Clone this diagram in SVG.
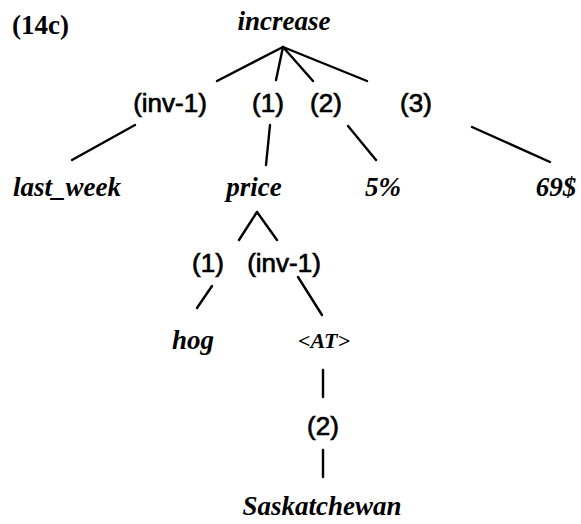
<svg xmlns="http://www.w3.org/2000/svg" width="581" height="524" viewBox="0 0 581 524">
<style>
.w{font-family:"Liberation Serif",serif;font-style:italic;font-weight:bold;font-size:27px;fill:#000;text-anchor:middle}
.l{font-family:"Liberation Sans",Arial,sans-serif;font-size:26px;fill:#000;text-anchor:middle;stroke:#000;stroke-width:0.7}
.t{font-family:"Liberation Serif",serif;font-weight:bold;font-size:27px;fill:#000}
.c line{stroke:#000;stroke-width:2.4;stroke-linecap:round}
</style>
<rect width="581" height="524" fill="#fff"/>
<text class="t" x="12" y="34">(14c)</text>
<g class="c" id="connectors">
<line x1="283" y1="47" x2="217" y2="81"/>
<line x1="283" y1="47" x2="276" y2="80"/>
<line x1="283" y1="47" x2="313" y2="81"/>
<line x1="283" y1="47" x2="367" y2="81"/>
<line x1="135" y1="125" x2="72" y2="160"/>
<line x1="270" y1="125" x2="266" y2="165"/>
<line x1="348" y1="126" x2="376" y2="160"/>
<line x1="472" y1="127" x2="550" y2="162"/>
<line x1="257" y1="212" x2="239" y2="240"/>
<line x1="257" y1="212" x2="277" y2="240"/>
<line x1="212" y1="286" x2="197" y2="308"/>
<line x1="298" y1="277" x2="322" y2="315"/>
<line x1="323" y1="370" x2="323" y2="397"/>
<line x1="323" y1="450" x2="323" y2="477"/>
</g>
<g id="n-increase"><text class="w" x="284" y="30">increase</text></g>
<g id="r-inv1"><text class="l" x="170" y="112">(inv-1)</text></g>
<g id="r-1"><text class="l" x="268" y="112">(1)</text></g>
<g id="r-2"><text class="l" x="326" y="112">(2)</text></g>
<g id="r-3"><text class="l" x="416" y="112">(3)</text></g>
<g id="n-lastweek"><text class="w" x="67" y="196">last_week</text></g>
<g id="n-price"><text class="w" x="254" y="196">price</text></g>
<g id="n-5"><text class="w" x="383" y="196">5%</text></g>
<g id="n-69"><text class="w" x="556" y="196">69$</text></g>
<g id="r-p1"><text class="l" x="208" y="272">(1)</text></g>
<g id="r-pinv1"><text class="l" x="284" y="272">(inv-1)</text></g>
<g id="n-hog"><text class="w" x="193" y="349">hog</text></g>
<g id="n-at"><text class="w" x="324" y="348" style="font-size:22px">&lt;AT&gt;</text></g>
<g id="r-a2"><text class="l" x="323" y="435">(2)</text></g>
<g id="n-sask"><text class="w" x="322" y="515">Saskatchewan</text></g>
</svg>
